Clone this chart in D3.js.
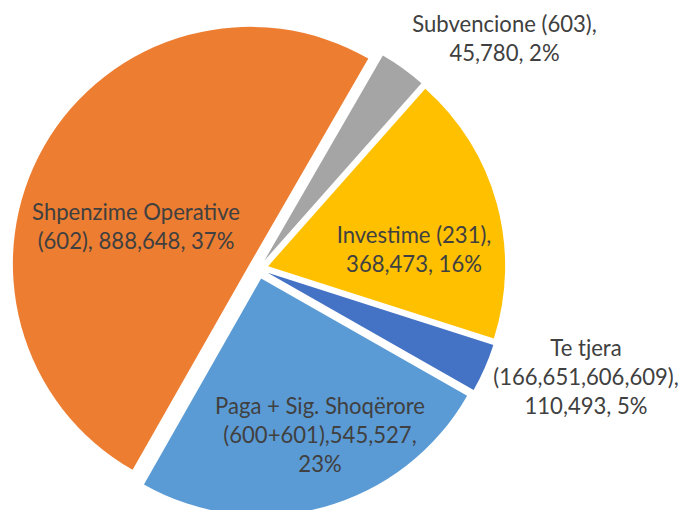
<!DOCTYPE html>
<html>
<head>
<meta charset="utf-8">
<script src="https://d3js.org/d3.v7.min.js"></script>
<style>
  body { margin: 0; background: #ffffff; }
</style>
</head>
<body>
<div id="chart"></div>
<script>
////////////////////////////////////////////////////////////////////////
// Data (slices go clockwise from the grey one)

let names = ["Subvencione", "Investime", "Te tjera", "Paga + Sig. Shoqërore", "Shpenzime Operative"];
let codes = ["(603)", "(231)", "(166,651,606,609)", "(600+601)", "(602)"];
let amounts = [45780, 368473, 110493, 545527, 888648];
let percents = [2, 16, 5, 23, 37];
// how much of the circle each slice takes in the picture (estimated from
// the drawn angles, the picture does not follow the amounts)
let shares = [3.2, 18.4, 3.3, 25.0, 50.1];
let colors = ["#a5a5a5", "#ffc000", "#4472c4", "#5b9bd5", "#ed7d31"];

////////////////////////////////////////////////////////////////////////
// Layout

let width = 679;
let height = 510;
let cx = 258.5, cy = 268.8;
let radius = 237;
let explode = 10;
let startDeg = 30;
let fontSize = 23.5;
let lineH = 29;
let condense = 0.94;

// label block centres, relative to the pie centre
let labelOffsets = [[246, -231], [155.5, -19.3], [327.5, 108.2], [61.5, 165.7], [-122.5, -42.3]];

let fmt = d3.format(",");

// how every label breaks into lines
function labelText(i) {
  let n = names[i], c = codes[i], a = fmt(amounts[i]), p = percents[i] + "%";
  if (i == 0 || i == 1) return [n + " " + c + ",", a + ", " + p];
  if (i == 2) return [n, c + ",", a + ", " + p];
  if (i == 3) return [n, c + "," + a + ",", p];
  return [n, c + ", " + a + ", " + p];
}

let svg = d3.select("#chart")
  .append("svg")
  .attr("width", width)
  .attr("height", height);

let pie = d3.pie()
  .sort(null)
  .value(d => d)
  .startAngle(startDeg * Math.PI / 180)
  .endAngle((startDeg + 360) * Math.PI / 180);

let arc = d3.arc()
  .innerRadius(0)
  .outerRadius(radius);

let slices = pie(shares);

// exploded slices, each pushed out along its middle angle
svg.append("g")
  .attr("class", "slices")
  .attr("transform", `translate(${cx},${cy})`)
  .selectAll("path")
  .data(slices)
  .enter()
  .append("path")
  .attr("d", arc)
  .attr("fill", (d, i) => colors[i])
  .attr("transform", function (d) {
    let mid = (d.startAngle + d.endAngle) / 2;
    return `translate(${explode * Math.sin(mid)},${-explode * Math.cos(mid)})`;
  });

// data labels
let labels = svg.append("g")
  .attr("class", "labels")
  .selectAll("text")
  .data(slices)
  .enter()
  .append("text")
  .attr("transform", (d, i) =>
    `translate(${cx + labelOffsets[i][0]},${cy + labelOffsets[i][1]}) scale(${condense},1)`)
  .attr("text-anchor", "middle")
  .attr("font-family", "Lato, 'Open Sans', sans-serif")
  .attr("font-size", fontSize)
  .attr("fill", "#404040");

labels.each(function (d, i) {
  let lines = labelText(i);
  let top = -(lines.length - 1) * lineH / 2;
  d3.select(this)
    .selectAll("tspan")
    .data(lines)
    .enter()
    .append("tspan")
    .attr("x", 0)
    .attr("y", (l, k) => top + k * lineH)
    .attr("dy", "0.35em")
    .text(l => l);
});
</script>
</body>
</html>
